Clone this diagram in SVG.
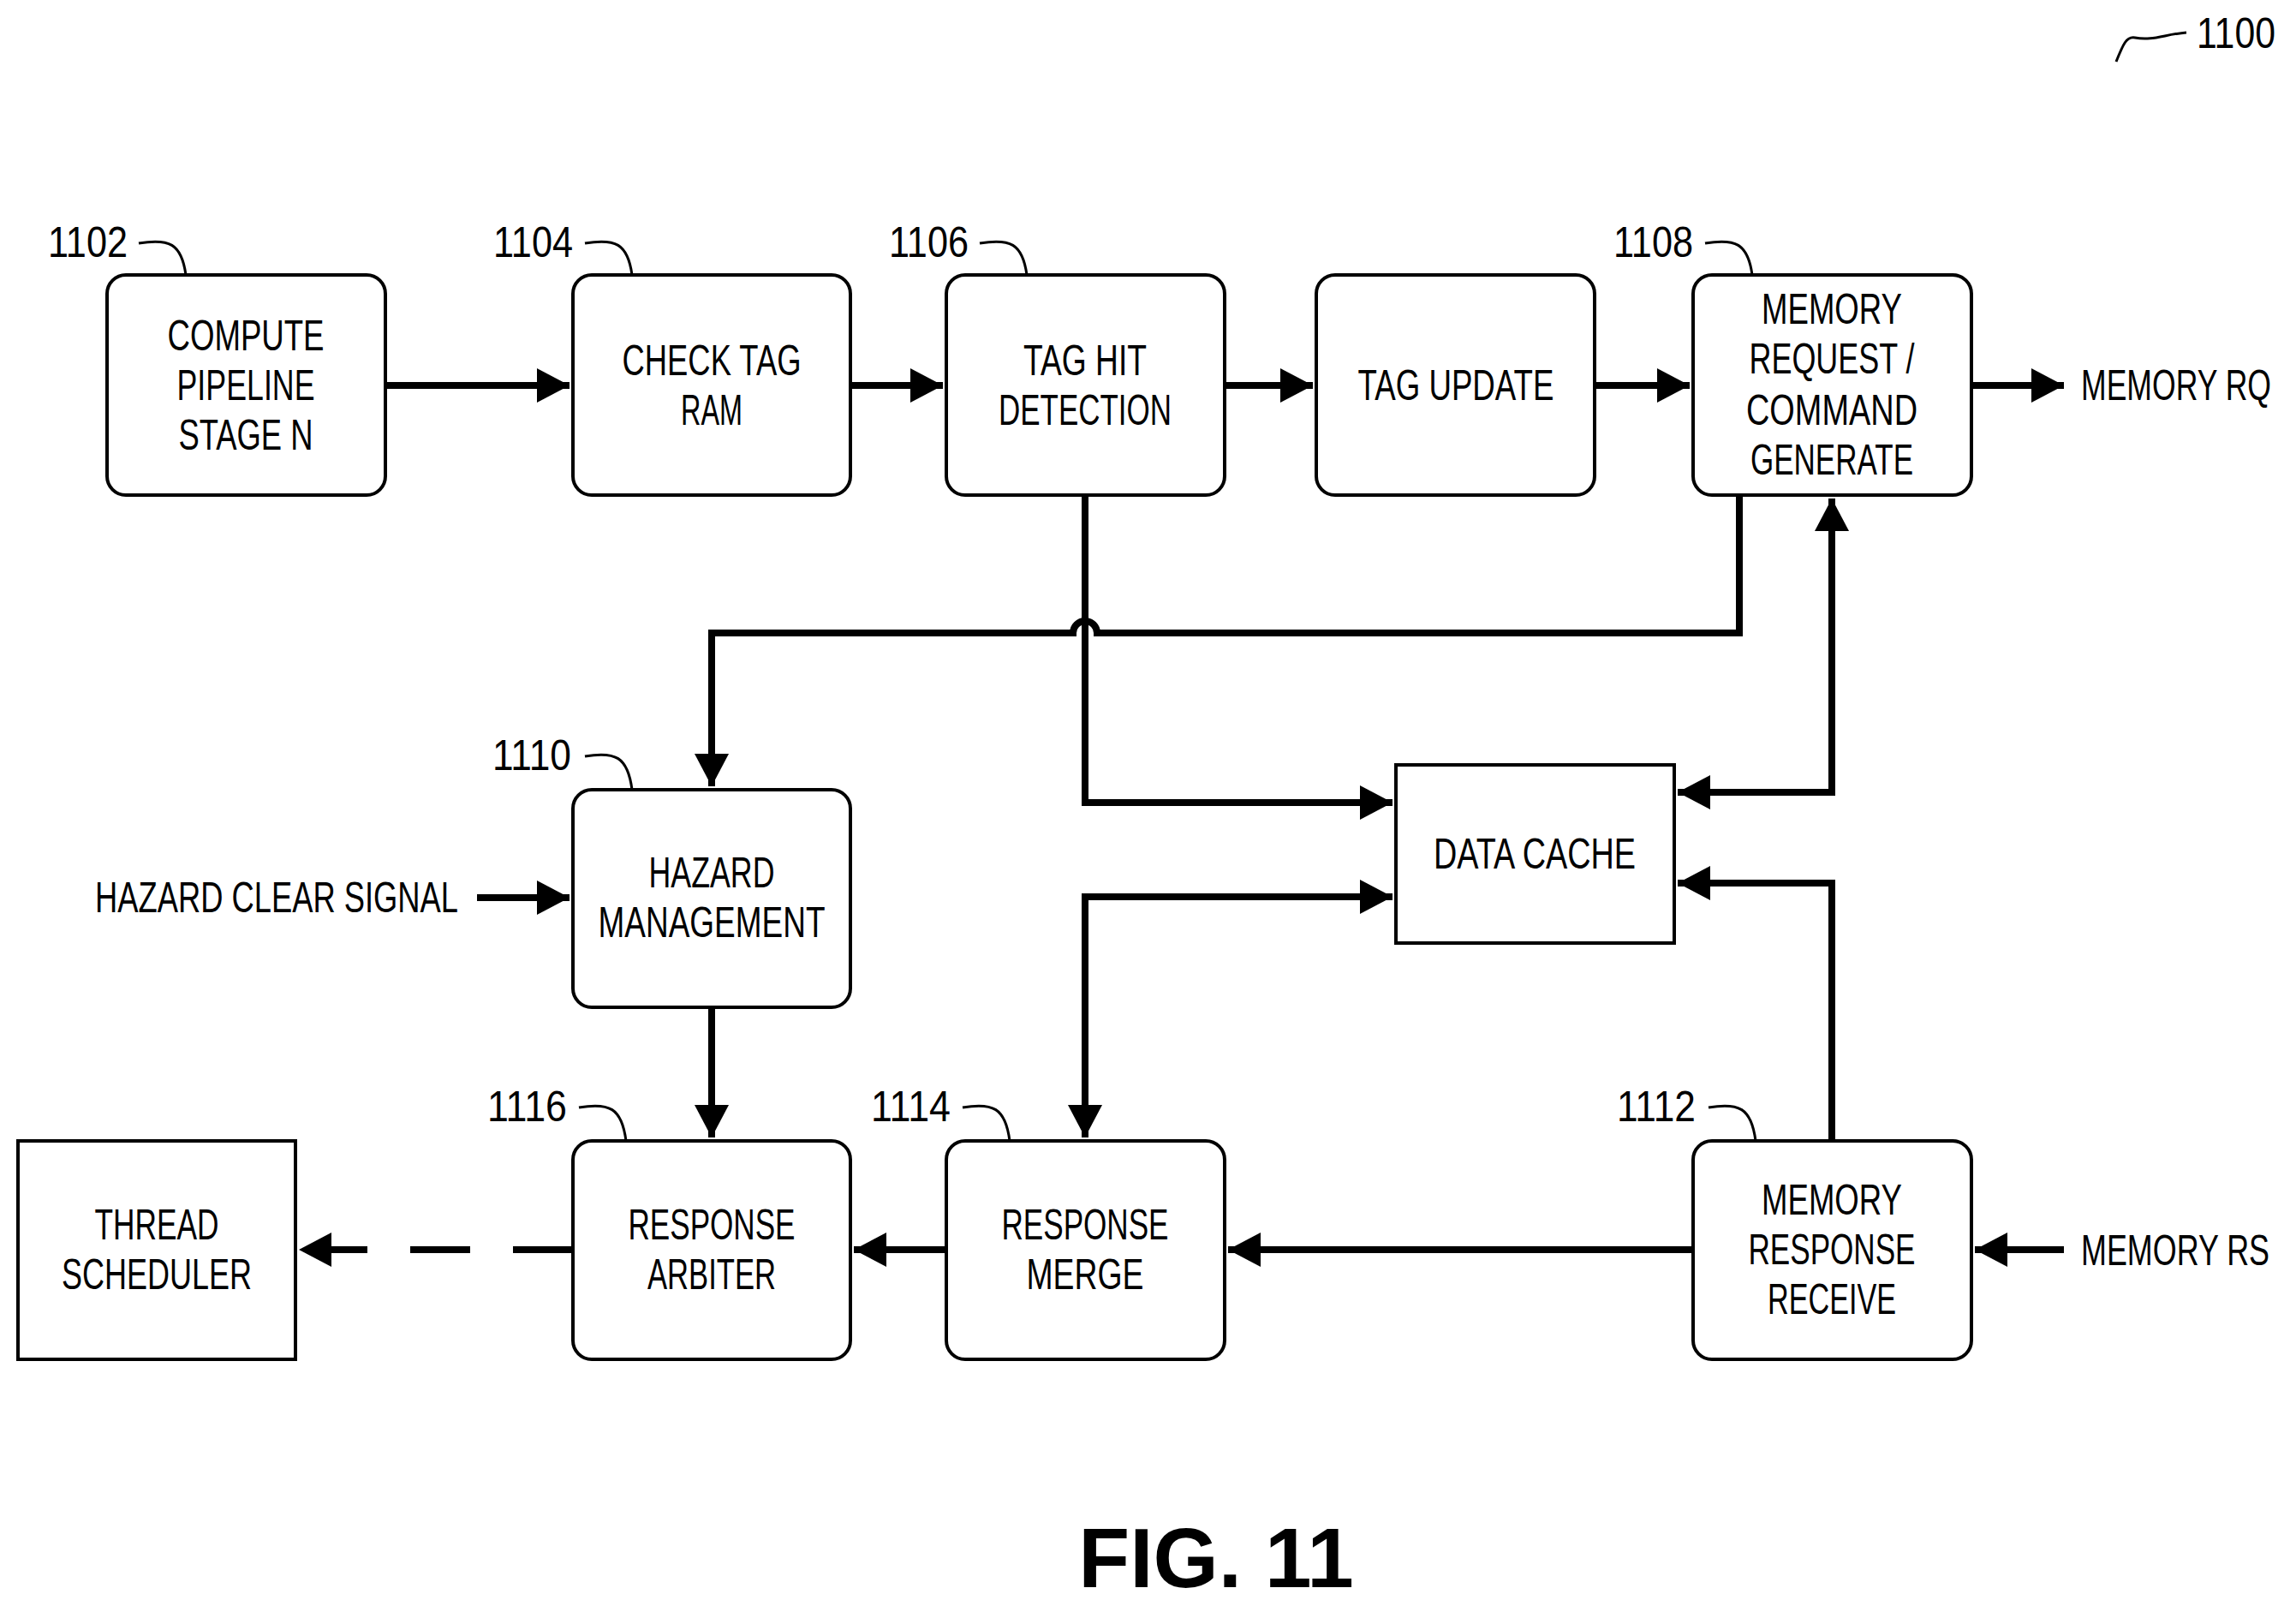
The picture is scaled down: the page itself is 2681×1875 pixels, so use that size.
<svg xmlns="http://www.w3.org/2000/svg" width="2681" height="1875" viewBox="0 0 2681 1875">
<style>
.b{fill:#fff;stroke:#000;stroke-width:4}
.t{font-family:"Liberation Sans",Arial,sans-serif;font-size:50px;fill:#000;text-anchor:middle}
.l{font-family:"Liberation Sans",Arial,sans-serif;font-size:50px;fill:#000}
.c{fill:none;stroke:#000;stroke-width:8}
.ld{fill:none;stroke:#000;stroke-width:3}
</style>
<defs>
<marker id="a" markerUnits="userSpaceOnUse" markerWidth="40" markerHeight="40" refX="38" refY="20" orient="auto-start-reverse"><path d="M0,0L38,20L0,40Z" fill="#000"/></marker>
</defs>
<rect width="2681" height="1875" fill="#fff"/>
<g id="connectors">
<path class="c" d="M450,450H665" marker-end="url(#a)"/>
<path class="c" d="M993,450H1101" marker-end="url(#a)"/>
<path class="c" d="M1430,450H1533" marker-end="url(#a)"/>
<path class="c" d="M1862,450H1973" marker-end="url(#a)"/>
<path class="c" d="M2302,450H2410" marker-end="url(#a)"/>
<path class="c" d="M2031,578V739H1281A14,14 0 0 0 1253,739H831V918" marker-end="url(#a)"/>
<path class="c" d="M1267,578V937H1626" marker-end="url(#a)"/>
<path class="c" d="M1267,1328V1047H1626" marker-end="url(#a)" marker-start="url(#a)"/>
<path class="c" d="M1959,925H2139V582" marker-end="url(#a)" marker-start="url(#a)"/>
<path class="c" d="M2139,1332V1031H1959" marker-end="url(#a)"/>
<path class="c" d="M557,1048H665" marker-end="url(#a)"/>
<path class="c" d="M831,1176V1328" marker-end="url(#a)"/>
<path class="c" d="M1977,1459H1434" marker-end="url(#a)"/>
<path class="c" d="M1105,1459H997" marker-end="url(#a)"/>
<path class="c" d="M2410,1459H2306" marker-end="url(#a)"/>
<path class="c" d="M669,1459H349" stroke-dasharray="70,50" marker-end="url(#a)"/>
</g>
<g id="n1102"><rect class="b" x="125" y="321" width="325" height="257" rx="22"/>
<text class="t" x="287" y="409" textLength="183" lengthAdjust="spacingAndGlyphs">COMPUTE</text>
<text class="t" x="287" y="467" textLength="161" lengthAdjust="spacingAndGlyphs">PIPELINE</text>
<text class="t" x="287" y="525" textLength="157" lengthAdjust="spacingAndGlyphs">STAGE N</text>
<text class="l" x="56" y="300" textLength="93" lengthAdjust="spacingAndGlyphs">1102</text>
<path class="ld" d="M162,284c35,-6 50,0 55,37"/></g>
<g id="n1104"><rect class="b" x="669" y="321" width="324" height="257" rx="22"/>
<text class="t" x="831" y="438" textLength="209" lengthAdjust="spacingAndGlyphs">CHECK TAG</text>
<text class="t" x="831" y="496" textLength="72" lengthAdjust="spacingAndGlyphs">RAM</text>
<text class="l" x="576" y="300" textLength="93" lengthAdjust="spacingAndGlyphs">1104</text>
<path class="ld" d="M683,284c35,-6 50,0 55,37"/></g>
<g id="n1106"><rect class="b" x="1105" y="321" width="325" height="257" rx="22"/>
<text class="t" x="1267" y="438" textLength="144" lengthAdjust="spacingAndGlyphs">TAG HIT</text>
<text class="t" x="1267" y="496" textLength="202" lengthAdjust="spacingAndGlyphs">DETECTION</text>
<text class="l" x="1038" y="300" textLength="93" lengthAdjust="spacingAndGlyphs">1106</text>
<path class="ld" d="M1144,284c35,-6 50,0 55,37"/></g>
<g id="ntag"><rect class="b" x="1537" y="321" width="325" height="257" rx="22"/>
<text class="t" x="1700" y="467" textLength="229" lengthAdjust="spacingAndGlyphs">TAG UPDATE</text></g>
<g id="n1108"><rect class="b" x="1977" y="321" width="325" height="257" rx="22"/>
<text class="t" x="2139" y="378" textLength="164" lengthAdjust="spacingAndGlyphs">MEMORY</text>
<text class="t" x="2139" y="436" textLength="193" lengthAdjust="spacingAndGlyphs">REQUEST /</text>
<text class="t" x="2139" y="496" textLength="200" lengthAdjust="spacingAndGlyphs">COMMAND</text>
<text class="t" x="2139" y="554" textLength="190" lengthAdjust="spacingAndGlyphs">GENERATE</text>
<text class="l" x="1884" y="300" textLength="93" lengthAdjust="spacingAndGlyphs">1108</text>
<path class="ld" d="M1991,284c35,-6 50,0 55,37"/></g>
<text class="l" x="2430" y="467" textLength="222" lengthAdjust="spacingAndGlyphs">MEMORY RQ</text>
<g id="n1110"><rect class="b" x="669" y="922" width="324" height="254" rx="22"/>
<text class="t" x="831" y="1036" textLength="147" lengthAdjust="spacingAndGlyphs">HAZARD</text>
<text class="t" x="831" y="1094" textLength="265" lengthAdjust="spacingAndGlyphs">MANAGEMENT</text>
<text class="l" x="575" y="899" textLength="92" lengthAdjust="spacingAndGlyphs">1110</text>
<path class="ld" d="M683,883c35,-6 50,0 55,39"/></g>
<text class="l" x="111" y="1065" textLength="424" lengthAdjust="spacingAndGlyphs">HAZARD CLEAR SIGNAL</text>
<g id="ncache"><rect class="b" x="1630" y="893" width="325" height="208"/>
<text class="t" x="1792" y="1014" textLength="236" lengthAdjust="spacingAndGlyphs">DATA CACHE</text></g>
<g id="nthread"><rect class="b" x="21" y="1332" width="324" height="255"/>
<text class="t" x="183" y="1447" textLength="145" lengthAdjust="spacingAndGlyphs">THREAD</text>
<text class="t" x="183" y="1505" textLength="222" lengthAdjust="spacingAndGlyphs">SCHEDULER</text></g>
<g id="n1116"><rect class="b" x="669" y="1332" width="324" height="255" rx="22"/>
<text class="t" x="831" y="1447" textLength="195" lengthAdjust="spacingAndGlyphs">RESPONSE</text>
<text class="t" x="831" y="1505" textLength="150" lengthAdjust="spacingAndGlyphs">ARBITER</text>
<text class="l" x="569" y="1309" textLength="93" lengthAdjust="spacingAndGlyphs">1116</text>
<path class="ld" d="M676,1293c35,-6 50,0 55,39"/></g>
<g id="n1114"><rect class="b" x="1105" y="1332" width="325" height="255" rx="22"/>
<text class="t" x="1267" y="1447" textLength="195" lengthAdjust="spacingAndGlyphs">RESPONSE</text>
<text class="t" x="1267" y="1505" textLength="137" lengthAdjust="spacingAndGlyphs">MERGE</text>
<text class="l" x="1017" y="1309" textLength="93" lengthAdjust="spacingAndGlyphs">1114</text>
<path class="ld" d="M1124,1293c35,-6 50,0 55,39"/></g>
<g id="n1112"><rect class="b" x="1977" y="1332" width="325" height="255" rx="22"/>
<text class="t" x="2139" y="1418" textLength="164" lengthAdjust="spacingAndGlyphs">MEMORY</text>
<text class="t" x="2139" y="1476" textLength="195" lengthAdjust="spacingAndGlyphs">RESPONSE</text>
<text class="t" x="2139" y="1534" textLength="150" lengthAdjust="spacingAndGlyphs">RECEIVE</text>
<text class="l" x="1888" y="1309" textLength="92" lengthAdjust="spacingAndGlyphs">1112</text>
<path class="ld" d="M1995,1293c35,-6 50,0 55,39"/></g>
<text class="l" x="2430" y="1477" textLength="220" lengthAdjust="spacingAndGlyphs">MEMORY RS</text>
<text class="l" x="2565" y="56" textLength="92" lengthAdjust="spacingAndGlyphs">1100</text>
<path class="ld" d="M2471,72c8,-20 12,-30 22,-28c20,4 35,-4 60,-6"/>
<text x="1420" y="1853" font-family="Liberation Sans,Arial,sans-serif" font-weight="bold" font-size="98" text-anchor="middle">FIG. 11</text>
</svg>
